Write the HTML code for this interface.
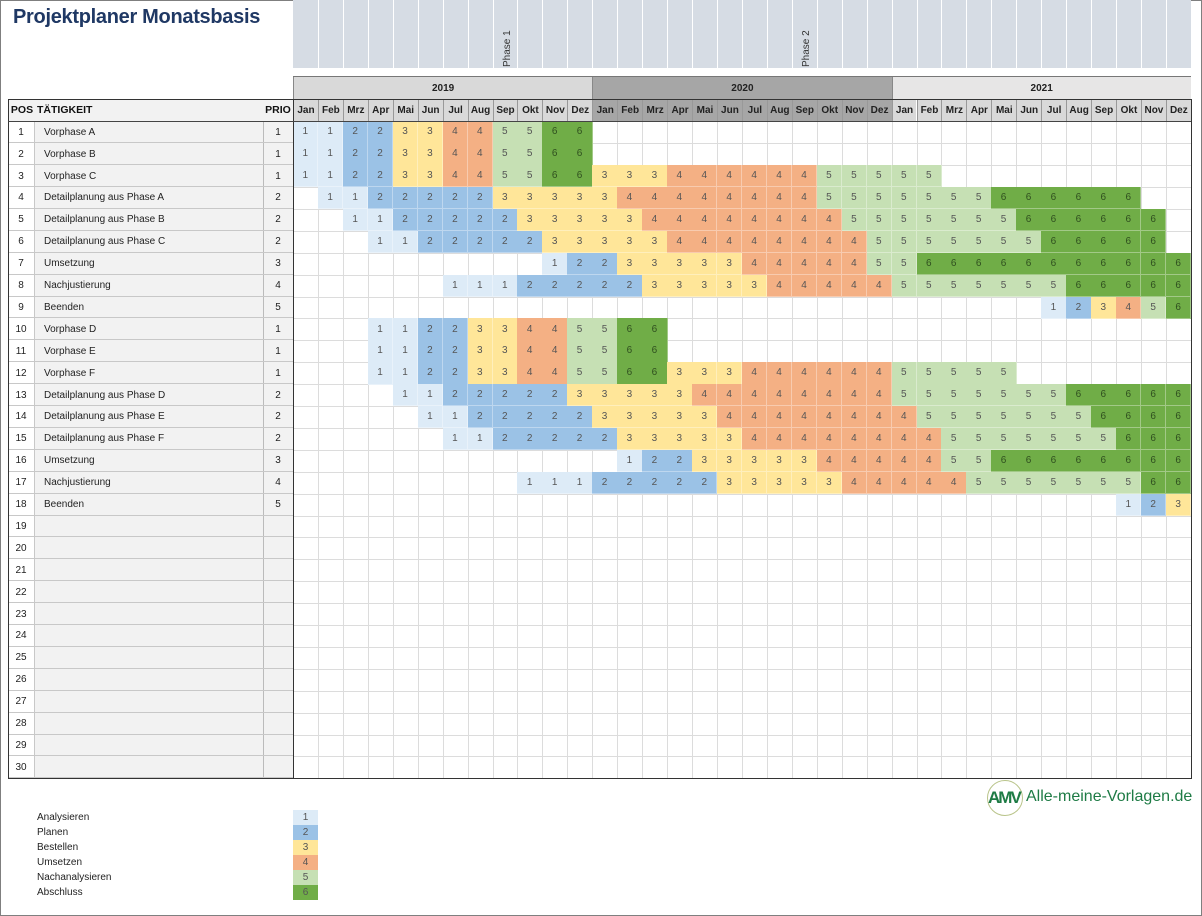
<!DOCTYPE html>
<html><head><meta charset="utf-8">
<style>
body{margin:0;width:1202px;height:916px;background:#fff;position:relative;overflow:hidden;font-family:"Liberation Sans",sans-serif;}
#frame{position:absolute;left:0;top:0;width:1200px;height:914px;border:1px solid #7f7f7f;}
.a{position:absolute;box-sizing:border-box;}
.c{position:absolute;box-sizing:border-box;font-size:10px;color:#444;text-align:center;display:flex;align-items:center;justify-content:center;}
</style></head><body>
<div id="frame"></div>
<div class="a" style="left:13px;top:6px;font-size:20px;font-weight:bold;color:#1f3864;letter-spacing:-0.3px;">Projektplaner Monatsbasis</div>
<div id="g"></div>
<div class="a" style="left:987px;top:780px;width:36px;height:36px;border:1.5px solid #b9c48a;border-radius:50%;"></div>
<div class="a" style="left:988px;top:788px;font-size:17px;color:#1e7b45;letter-spacing:-2px;font-weight:bold;">AMV</div>
<div class="a" style="left:1026px;top:788px;font-size:16px;color:#1e7b45;">Alle-meine-Vorlagen.de</div>
<script>
var g=document.getElementById('g'),h='';
function d(x,y,w,hh,st,t,cls){h+='<div class="'+(cls||'c')+'" style="left:'+x+'px;top:'+y+'px;width:'+w+'px;height:'+hh+'px;'+(st||'')+'">'+(t||'')+'</div>';}
var X0=293,CW=24.94,Y0=121.3,RH=21.9;
var cols=['#ddebf7','#9bc2e6','#ffe699','#f4b084','#c6e0b4','#70ad47'];
var M=['Jan','Feb','Mrz','Apr','Mai','Jun','Jul','Aug','Sep','Okt','Nov','Dez'];
d(X0,0,898,68,'background:#d6dce4;','','a');
for(var i=1;i<36;i++)d(X0+i*CW,0,1,68,'background:#fff;','','a');
h+='<div class="a" style="left:'+(X0+8*CW+9)+'px;top:67px;transform:rotate(-90deg);transform-origin:0 0;font-size:10px;color:#333;">Phase 1</div>';
h+='<div class="a" style="left:'+(X0+20*CW+9)+'px;top:67px;transform:rotate(-90deg);transform-origin:0 0;font-size:10px;color:#333;">Phase 2</div>';
var yb=['#d9d9d9','#a6a6a6','#e7e6e6'],yt=['2019','2020','2021'];
for(var y=0;y<3;y++){d(X0+y*12*CW,77,12*CW,22,'background:'+yb[y]+';border-left:1px solid #888;font-weight:bold;font-size:10px;color:#222;',yt[y]);}
d(X0,76,898,1,'background:#777;','','a');
d(8,99,285,22,'background:#f2f2f2;','','a');
d(10,99,24,22,'font-weight:bold;font-size:10.5px;color:#111;','POS');
d(37,99,200,22,'font-weight:bold;font-size:10.5px;color:#111;justify-content:flex-start;','TÄTIGKEIT');
d(263,99,30,22,'font-weight:bold;font-size:10.5px;color:#111;','PRIO');
var mb=['#d9d9d9','#a6a6a6','#d9d9d9'];
for(var i=0;i<36;i++)d(X0+i*CW,99,CW,22,'background:'+mb[Math.floor(i/12)]+';border-left:1px solid #999;font-weight:bold;font-size:10px;color:#222;',M[i%12]);
var names=['Vorphase A','Vorphase B','Vorphase C','Detailplanung aus Phase A','Detailplanung aus Phase B','Detailplanung aus Phase C','Umsetzung','Nachjustierung','Beenden','Vorphase D','Vorphase E','Vorphase F','Detailplanung aus Phase D','Detailplanung aus Phase E','Detailplanung aus Phase F','Umsetzung','Nachjustierung','Beenden'];
var pr=[1,1,1,2,2,2,3,4,5,1,1,1,2,2,2,3,4,5];
var B=[[1,0,1],[2,2,3],[3,4,5],[4,6,7],[5,8,9],[6,10,11]];
var D=[[1,3,4],[2,5,6],[3,7,8],[4,9,10],[5,11,12],[6,13,14]];
var R=[B,B,B.concat([[3,12,14],[4,15,20],[5,21,25]]),
[[1,1,2],[2,3,7],[3,8,12],[4,13,20],[5,21,27],[6,28,33]],
[[1,2,3],[2,4,8],[3,9,13],[4,14,21],[5,22,28],[6,29,34]],
[[1,3,4],[2,5,9],[3,10,14],[4,15,22],[5,23,29],[6,30,34]],
[[1,10,10],[2,11,12],[3,13,17],[4,18,22],[5,23,24],[6,25,35]],
[[1,6,8],[2,9,13],[3,14,18],[4,19,23],[5,24,30],[6,31,35]],
[[1,30,30],[2,31,31],[3,32,32],[4,33,33],[5,34,34],[6,35,35]],
D,D,D.concat([[3,15,17],[4,18,23],[5,24,28]]),
[[1,4,5],[2,6,10],[3,11,15],[4,16,23],[5,24,30],[6,31,35]],
[[1,5,6],[2,7,11],[3,12,16],[4,17,24],[5,25,31],[6,32,35]],
[[1,6,7],[2,8,12],[3,13,17],[4,18,25],[5,26,32],[6,33,35]],
[[1,13,13],[2,14,15],[3,16,20],[4,21,25],[5,26,27],[6,28,35]],
[[1,9,11],[2,12,16],[3,17,21],[4,22,26],[5,27,33],[6,34,35]],
[[1,33,33],[2,34,34],[3,35,35]]];
for(var r=0;r<30;r++){
 var yy=Y0+r*RH;
 d(34,yy,229,RH,'background:#f2f2f2;','','a');
 d(263,yy,30,RH,'background:#f2f2f2;border-left:1px solid #bbb;','','a');
 d(8,yy,26,RH,'font-size:10px;color:#222;',String(r+1));
 if(r<18){d(44,yy,215,RH,'font-size:10px;color:#222;justify-content:flex-start;',names[r]);d(263,yy,30,RH,'font-size:10px;color:#222;',String(pr[r]));}
 d(8,yy+RH-1,285,1,'background:#c8c8c8;','','a');
 d(34,yy,1,RH,'background:#c8c8c8;','','a');
}
for(var i=1;i<36;i++)d(X0+i*CW,121,1,657,'background:#dcdcdc;','','a');
for(var r=1;r<30;r++)d(X0,Y0+r*RH,898,1,'background:#dcdcdc;','','a');
for(var r=0;r<18;r++){var yy=Y0+r*RH;R[r].forEach(function(s){for(var c=s[1];c<=s[2];c++)d(X0+c*CW,yy,CW+0.5,RH+0.5,'background:'+cols[s[0]-1]+';border-right:1px solid rgba(255,255,255,0.35);border-bottom:1px solid rgba(255,255,255,0.35);color:'+(s[0]==6?'#2f4f1f':'#555')+';',String(s[0]));});}
d(8,99,1184,680,'border:1px solid #333;','','a');
d(X0,99,1,680,'background:#333;','','a');
d(X0,121,898,1,'background:#444;','','a');
d(8,121,285,1,'background:#444;','','a');
var L=['Analysieren','Planen','Bestellen','Umsetzen','Nachanalysieren','Abschluss'];
for(var i=0;i<6;i++){var yy=810+i*15;d(37,yy,200,15,'font-size:10px;color:#222;justify-content:flex-start;',L[i]);d(293,yy,25,15,'background:'+cols[i]+';color:#555;font-size:10px;',String(i+1));}
g.innerHTML=h;
</script>
</body></html>
